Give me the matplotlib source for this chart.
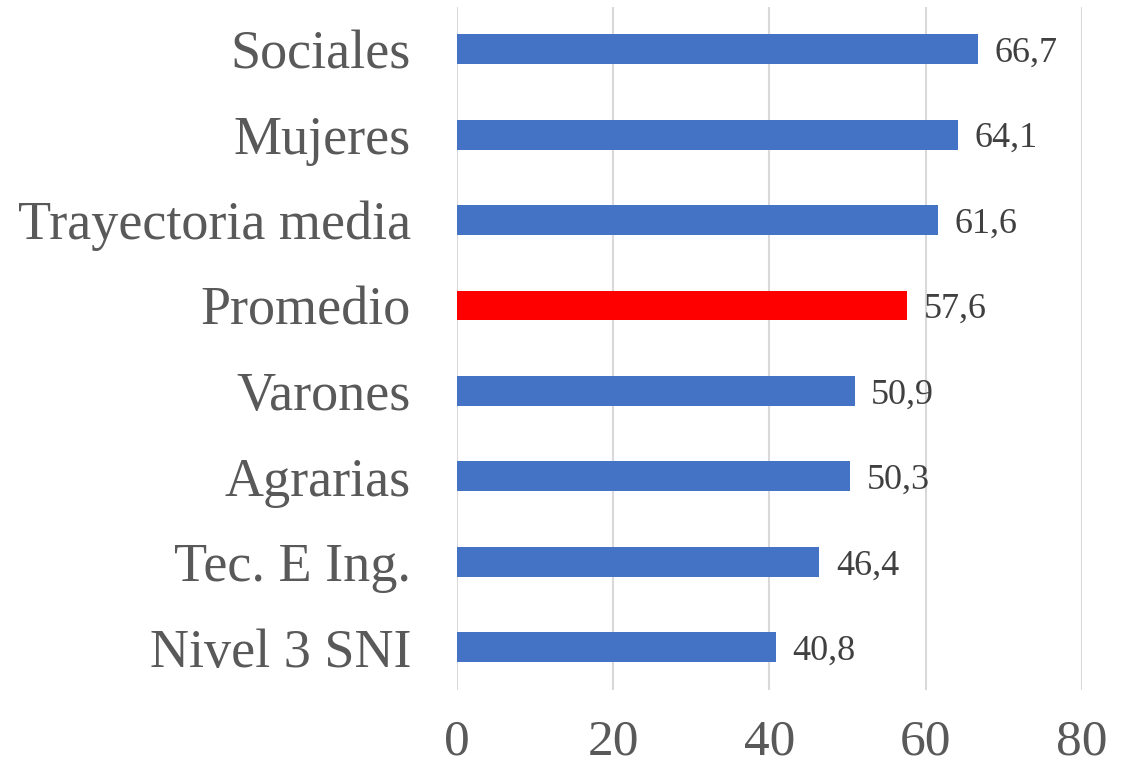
import matplotlib.pyplot as plt

categories = ['Nivel 3 SNI', 'Tec. E Ing.', 'Agrarias', 'Varones',
              'Promedio', 'Trayectoria media', 'Mujeres', 'Sociales']
values = [40.8, 46.4, 50.3, 50.9, 57.6, 61.6, 64.1, 66.7]
colors = ['#4472C4'] * 8
colors[4] = '#FF0000'

plt.rcParams['font.family'] = ['Liberation Serif', 'DejaVu Serif']

fig = plt.figure(figsize=(11.32, 7.65), dpi=100)
ax = fig.add_axes([0.4037, 0.098, 0.5521, 0.8935])

y = range(len(categories))
ax.barh(y, values, height=0.35, color=colors, zorder=3)

for i, v in enumerate(values):
    ax.annotate(f'{v:.1f}'.replace('.', ','), (v, i), xytext=(12, 0),
                textcoords='offset points', va='center_baseline', ha='left',
                fontsize=26, color='#404040')

ax.set_xlim(0, 80)
ax.set_ylim(-0.5, len(categories) - 0.5)
ax.set_xticks([0, 20, 40, 60, 80])
ax.set_yticks(list(y))
ax.set_yticklabels(categories)
ax.grid(axis='x', color='#D9D9D9', linewidth=1.5, zorder=0)
for s in ax.spines.values():
    s.set_visible(False)
ax.tick_params(axis='x', length=0, pad=21, labelsize=37, labelcolor='#595959')
ax.tick_params(axis='y', length=0, pad=33, labelsize=39, labelcolor='#595959')
for lab in ax.get_yticklabels():
    lab.set_verticalalignment('center_baseline')

plt.savefig('out.png', dpi=100)
